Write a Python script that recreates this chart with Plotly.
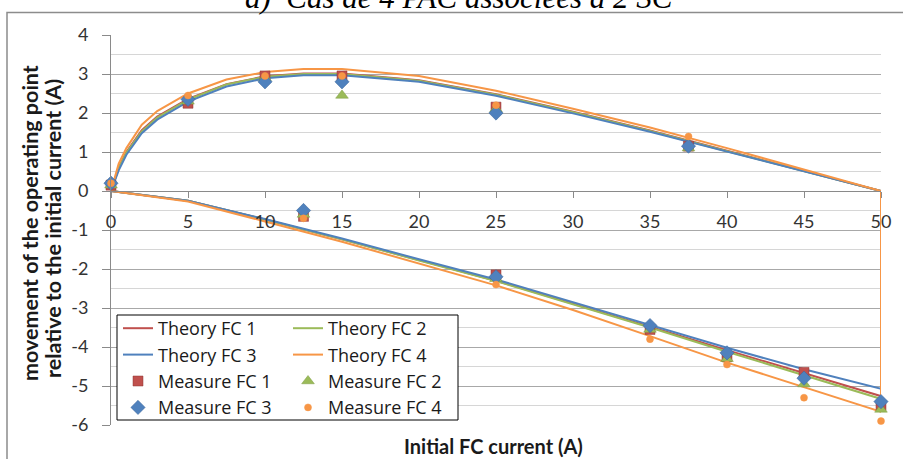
import plotly.graph_objects as go

# ---------------- data ----------------
# Theory curves: upper branch (x from 0 to 50), lower branch (x from 0 to 50)
upper_x = [0, 0.5, 1, 2, 3, 5, 7.5, 10, 12.5, 15, 20, 25, 30, 35, 40, 45, 50]
theory_fc1_upper = [0, 0.6, 1.0, 1.56, 1.91, 2.36, 2.74, 2.94, 3.01, 3.01, 2.84, 2.48, 2.03, 1.55, 1.03, 0.51, 0]
theory_fc2_upper = [0, 0.58, 0.98, 1.53, 1.88, 2.34, 2.73, 2.93, 3.0, 3.0, 2.83, 2.47, 2.02, 1.54, 1.02, 0.51, 0]
theory_fc3_upper = [0, 0.53, 0.93, 1.48, 1.83, 2.29, 2.68, 2.89, 2.97, 2.97, 2.8, 2.44, 1.99, 1.52, 1.01, 0.5, 0]
theory_fc4_upper = [0, 0.7, 1.1, 1.7, 2.05, 2.5, 2.86, 3.05, 3.13, 3.13, 2.95, 2.57, 2.11, 1.63, 1.1, 0.55, 0]

lower_x = [0, 5, 10, 15, 20, 25, 30, 35, 40, 45, 50]
theory_fc1_lower = [0, -0.25, -0.73, -1.24, -1.77, -2.3, -2.88, -3.48, -4.08, -4.68, -5.26]
theory_fc2_lower = [0, -0.25, -0.73, -1.24, -1.78, -2.31, -2.9, -3.5, -4.12, -4.73, -5.33]
theory_fc3_lower = [0, -0.25, -0.72, -1.22, -1.75, -2.27, -2.85, -3.43, -4.02, -4.57, -5.07]
theory_fc4_lower = [0, -0.27, -0.78, -1.3, -1.86, -2.42, -3.05, -3.72, -4.4, -5.03, -5.66]

# Measurements
measure_x = [0, 5, 10, 12.5, 15, 25, 37.5, 25, 35, 40, 45, 50]
measure_fc1 = [0.15, 2.25, 2.95, -0.65, 2.95, 2.15, 1.15, -2.15, -3.55, -4.25, -4.65, -5.5]
measure_fc2 = [0.15, 2.3, 2.9, -0.6, 2.45, 2.1, 1.1, -2.25, -3.55, -4.3, -4.95, -5.6]
measure_fc3 = [0.2, 2.35, 2.8, -0.5, 2.8, 2.0, 1.15, -2.2, -3.45, -4.15, -4.8, -5.4]
measure_fc4 = [0.2, 2.45, 2.95, -0.7, 2.95, 2.2, 1.4, -2.4, -3.8, -4.45, -5.3, -5.9]

x_tick_vals = [0, 5, 10, 15, 20, 25, 30, 35, 40, 45, 50]
y_tick_vals = [4, 3, 2, 1, 0, -1, -2, -3, -4, -5, -6]
y_tick_text = ["4", "3", "2", "1", "0", "-1", "-2", "-3", "-4", "-5", "-6"]
y_minor_vals = [3.5, 2.5, 1.5, 0.5, -0.5, -1.5, -2.5, -3.5, -4.5, -5.5]

title_text = "a)  Cas de 4 PAC associées à 2 SC"
x_title = "Initial FC current (A)"
y_title_line1 = "movement of the operating point"
y_title_line2 = "relative to the initial current (A)"

RED, GREEN, BLUE, ORANGE = "#C0504D", "#9BBB59", "#4F81BD", "#F79646"
FONT = "Lato, 'Open Sans', sans-serif"
LEG_FONT = "Open Sans"

fig = go.Figure()

theories = [
    ("Theory FC 1", theory_fc1_upper, theory_fc1_lower, RED, "legend"),
    ("Theory FC 2", theory_fc2_upper, theory_fc2_lower, GREEN, "legend2"),
    ("Theory FC 3", theory_fc3_upper, theory_fc3_lower, BLUE, "legend"),
    ("Theory FC 4", theory_fc4_upper, theory_fc4_lower, ORANGE, "legend2"),
]
for name, up, low, col, lg in theories:
    fig.add_trace(go.Scatter(
        x=upper_x + lower_x[::-1], y=up + low[::-1], mode="lines", name=name,
        line=dict(color=col, width=2), legend=lg, cliponaxis=False))

measures = [
    ("Measure FC 1", measure_fc1, RED, "square", 10, "#8E3532", "legend"),
    ("Measure FC 2", measure_fc2, GREEN, "triangle-up", 11, "#7A9A3E", "legend2"),
    ("Measure FC 3", measure_fc3, BLUE, "diamond", 11, "#3A6599", "legend"),
    ("Measure FC 4", measure_fc4, ORANGE, "circle", 7, "#F79646", "legend2"),
]
for name, ys, col, sym, sz, lc, lg in measures:
    fig.add_trace(go.Scatter(
        x=measure_x, y=ys, mode="markers", name=name,
        marker=dict(color=col, symbol=sym, size=sz, line=dict(color=lc, width=0.5)),
        legend=lg, cliponaxis=False))

W, H = 903, 459
ML, MR, MT, MB = 111, 22, 35, 34
pw, ph = W - ML - MR, H - MT - MB

def px_x(p):
    return (p - ML) / pw

def px_y(p):
    return (H - MB - p) / ph

legend_common = dict(
    bgcolor="rgba(0,0,0,0)", borderwidth=0, font=dict(family=LEG_FONT, size=18, color="#1a1a1a"),
    orientation="v", xanchor="left", yanchor="top", tracegroupgap=0, itemwidth=30,
)

fig.update_layout(
    width=W, height=H,
    margin=dict(l=ML, r=MR, t=MT, b=MB),
    paper_bgcolor="white", plot_bgcolor="white",
    font=dict(family=FONT, color="#333333"),
    showlegend=True,
    legend=dict(x=px_x(118), y=px_y(310), **legend_common),
    legend2=dict(x=px_x(288), y=px_y(310), **legend_common),
    xaxis=dict(
        range=[0, 50], tickvals=x_tick_vals, showgrid=False, zeroline=False,
        showline=True, linecolor="#8a8a8a", linewidth=1,
        anchor="free", position=0.6, ticks="outside", ticklen=6, tickcolor="#8a8a8a",
        ticklabelstandoff=8, tickfont=dict(family=FONT, size=18, color="#333333"),
    ),
    yaxis=dict(
        range=[-6, 4], tickvals=y_tick_vals, ticktext=y_tick_text,
        showgrid=True, gridcolor="#a8a8a8", gridwidth=1, zeroline=False,
        showline=True, linecolor="#8a8a8a", linewidth=1,
        ticks="outside", ticklen=8, tickcolor="#8a8a8a", ticklabelstandoff=10,
        tickfont=dict(family=FONT, size=18, color="#333333"),
        minor=dict(tickvals=y_minor_vals, showgrid=True, gridcolor="#d6d6d6", gridwidth=1, ticks=""),
    ),
    shapes=[
        # outer chart frame
        dict(type="rect", xref="paper", yref="paper",
             x0=px_x(7), x1=px_x(960), y0=px_y(12.5), y1=px_y(520),
             line=dict(color="#8c8c8c", width=1.5), fillcolor="rgba(0,0,0,0)", layer="below"),
        # legend box
        dict(type="rect", xref="paper", yref="paper",
             x0=px_x(117), x1=px_x(458), y0=px_y(315), y1=px_y(420),
             line=dict(color="#000000", width=1), fillcolor="white", layer="above"),
    ],
    annotations=[
        dict(text="<i>" + title_text + "</i>", xref="paper", yref="paper",
             x=px_x(459), y=px_y(17), xanchor="center", yanchor="bottom", showarrow=False,
             font=dict(family="Liberation Serif, serif", size=31, color="#000000")),
        dict(text="<b>" + x_title + "</b>", xref="paper", yref="paper",
             x=px_x(493), y=px_y(446), xanchor="center", yanchor="middle", showarrow=False,
             font=dict(family=FONT, size=20, color="#1a1a1a")),
        dict(text="<b>" + y_title_line1 + "</b>", xref="paper", yref="paper",
             x=px_x(30), y=px_y(223), xanchor="center", yanchor="middle", showarrow=False,
             textangle=-90, font=dict(family=FONT, size=21.5, color="#1a1a1a")),
        dict(text="<b>" + y_title_line2 + "</b>", xref="paper", yref="paper",
             x=px_x(53), y=px_y(229), xanchor="center", yanchor="middle", showarrow=False,
             textangle=-90, font=dict(family=FONT, size=21.5, color="#1a1a1a")),
    ],
)

fig.write_html(
    "out.html",
    config={"displayModeBar": False},
    post_script="document.body.style.margin='0';document.body.style.overflow='hidden';",
)
